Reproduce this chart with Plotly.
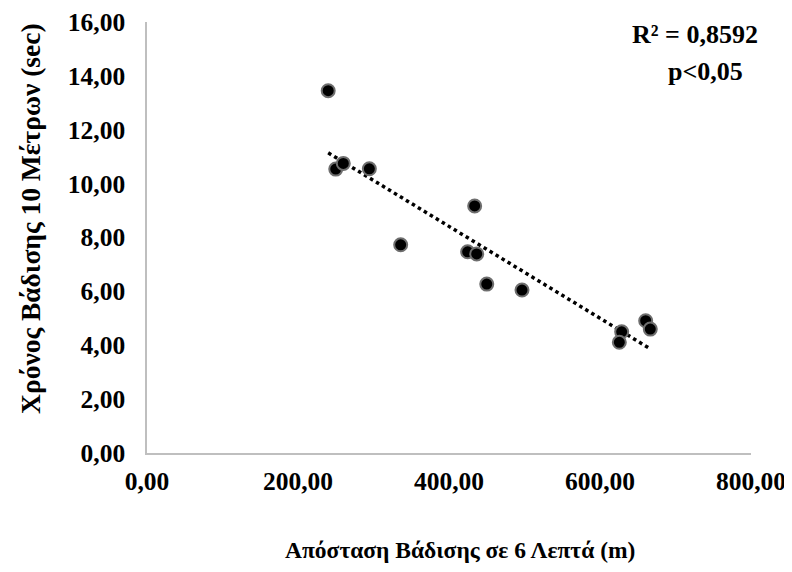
import numpy as np
import plotly.graph_objects as go

# Data
distance_m = [240, 250, 260, 294.5, 336, 434, 424.7, 436.7, 450, 496.7, 628.7, 625.6, 660.5, 666.6]
time_sec = [13.45, 10.54, 10.75, 10.55, 7.73, 9.17, 7.47, 7.39, 6.27, 6.05, 4.50, 4.11, 4.91, 4.60]

x_ticks = [0, 200, 400, 600, 800]
y_ticks = [0, 2, 4, 6, 8, 10, 12, 14, 16]

r2_text = "R² = 0,8592"
p_text = "p<0,05"
x_title = "Απόσταση Βάδισης σε 6 Λεπτά (m)"
y_title = "Χρόνος Βάδισης 10 Μέτρων (sec)"

# Linear trendline (least squares) across the data range
xa = np.array(distance_m)
ya = np.array(time_sec)
slope, intercept = np.polyfit(xa, ya, 1)
trend_x = [xa.min(), xa.max()]
trend_y = [slope * v + intercept for v in trend_x]

FONT = "Liberation Serif"

fig = go.Figure()
fig.add_trace(go.Scatter(
    x=trend_x, y=trend_y, mode="lines",
    line=dict(color="black", width=3.5, dash="dot"),
    showlegend=False, hoverinfo="skip",
))
fig.add_trace(go.Scatter(
    x=distance_m, y=time_sec, mode="markers",
    marker=dict(size=13, color="black", line=dict(color="#6e6e6e", width=2)),
    showlegend=False,
))

axis_common = dict(
    showgrid=False, zeroline=False, showline=True,
    linecolor="#bfbfbf", linewidth=1.5,
    ticks="", tickformat=".2f", automargin=False,
    ticklabeloverflow="allow",
    tickfont=dict(family=FONT, size=25.5, color="black", weight="bold"),
)

def bold(size):
    return dict(family=FONT, size=size, color="black", weight="bold")

# page body has an 8px default margin, so the figure is sized to fit the window
fig.update_layout(
    width=784, height=564,
    margin=dict(l=139, r=41, t=14, b=119),
    paper_bgcolor="white", plot_bgcolor="white",
    separators=",.",
    xaxis=dict(range=[0, 800], tickvals=x_ticks, ticklabelstandoff=5, **axis_common),
    yaxis=dict(range=[0, 16], tickvals=y_ticks, ticklabelstandoff=15, **axis_common),
    annotations=[
        dict(text=x_title, xref="paper", yref="paper", x=0.518, y=-0.225,
             xanchor="center", yanchor="middle", showarrow=False, font=bold(23.5)),
        dict(text=y_title, xref="paper", yref="paper", x=-0.194, y=0.545,
             xanchor="center", yanchor="middle", showarrow=False, textangle=-90,
             font=bold(27.5)),
        dict(text=r2_text, xref="paper", yref="paper", x=0.907, y=0.970,
             xanchor="center", yanchor="middle", showarrow=False, font=bold(26)),
        dict(text=p_text, xref="paper", yref="paper", x=0.925, y=0.884,
             xanchor="center", yanchor="middle", showarrow=False, font=bold(26)),
    ],
)

fig.write_html("out.html")
